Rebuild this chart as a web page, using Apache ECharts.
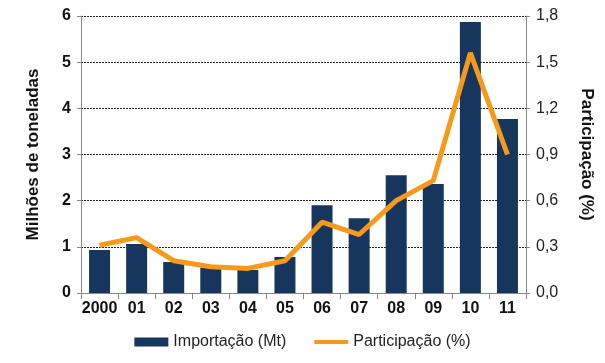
<!DOCTYPE html>
<html><head><meta charset="utf-8">
<script src="https://cdn.jsdelivr.net/npm/echarts@6/dist/echarts.min.js"></script>
<style>html,body{margin:0;padding:0;background:#fff}#c{width:605px;height:363px}</style>
</head><body><div id="c"></div>
<script>
const categories = ['2000','01','02','03','04','05','06','07','08','09','10','11'];
const importacao = [0.93,1.06,0.67,0.55,0.50,0.78,1.90,1.62,2.55,2.36,5.87,3.77];
const participacao = [0.31,0.36,0.21,0.17,0.16,0.21,0.46,0.38,0.60,0.73,1.56,0.90];
const leftTicks = [0,1,2,3,4,5,6];
const rightTicks = ['0,0','0,3','0,6','0,9','1,2','1,5','1,8'];

const chart = echarts.init(document.getElementById('c'));
const font = 'Liberation Sans, Arial, sans-serif';
chart.setOption({
  animation:false,
  textStyle:{fontFamily:font},
  grid:{left:81,right:79,top:16,bottom:70},
  legend:{
    bottom:8, left:'center', itemGap:26, itemWidth:34, itemHeight:9,
    textStyle:{fontSize:16,color:'#222',fontFamily:font},
    data:[
      {name:'Importação (Mt)',icon:'rect'},
      {name:'Participação (%)',itemStyle:{color:'rgba(0,0,0,0)',borderColor:'rgba(0,0,0,0)',borderWidth:0},lineStyle:{width:4}}
    ]
  },
  xAxis:{
    type:'category', data:categories,
    axisLine:{lineStyle:{color:'#888'}},
    axisTick:{show:true,length:6,lineStyle:{color:'#888'}},
    axisLabel:{fontSize:16,fontWeight:'bold',color:'#111',margin:8,interval:0}
  },
  yAxis:[{
    type:'value', min:0, max:6, interval:1,
    name:'Milhões de toneladas', nameLocation:'middle', nameGap:39, nameRotate:90,
    nameTextStyle:{fontSize:17,fontWeight:'bold',color:'#111'},
    axisLine:{show:true,lineStyle:{color:'#888'}},
    axisTick:{show:true,length:4,lineStyle:{color:'#888'}},
    axisLabel:{fontSize:16,fontWeight:'bold',color:'#111',margin:10,
      formatter:v=>String(leftTicks[Math.round(v)])},
    splitLine:{lineStyle:{color:'#222',type:[2,1],width:1}}
  },{
    type:'value', min:0, max:1.8, interval:0.3,
    name:'Participação (%)', nameLocation:'middle', nameGap:52, nameRotate:-90,
    nameTextStyle:{fontSize:17,fontWeight:'bold',color:'#111'},
    axisLine:{show:true,lineStyle:{color:'#888'}},
    axisTick:{show:true,length:4,lineStyle:{color:'#888'}},
    axisLabel:{fontSize:16,color:'#222',margin:10,
      formatter:v=>rightTicks[Math.round(v/0.3)]},
    splitLine:{show:false}
  }],
  series:[{
    name:'Importação (Mt)', type:'bar', data:importacao, barWidth:21,
    itemStyle:{color:'#17365D'}
  },{
    name:'Participação (%)', type:'line', yAxisIndex:1, data:participacao,
    symbol:'none', lineStyle:{color:'#F79A1C',width:5}, itemStyle:{color:'#F79A1C'}
  }]
});
</script></body></html>
